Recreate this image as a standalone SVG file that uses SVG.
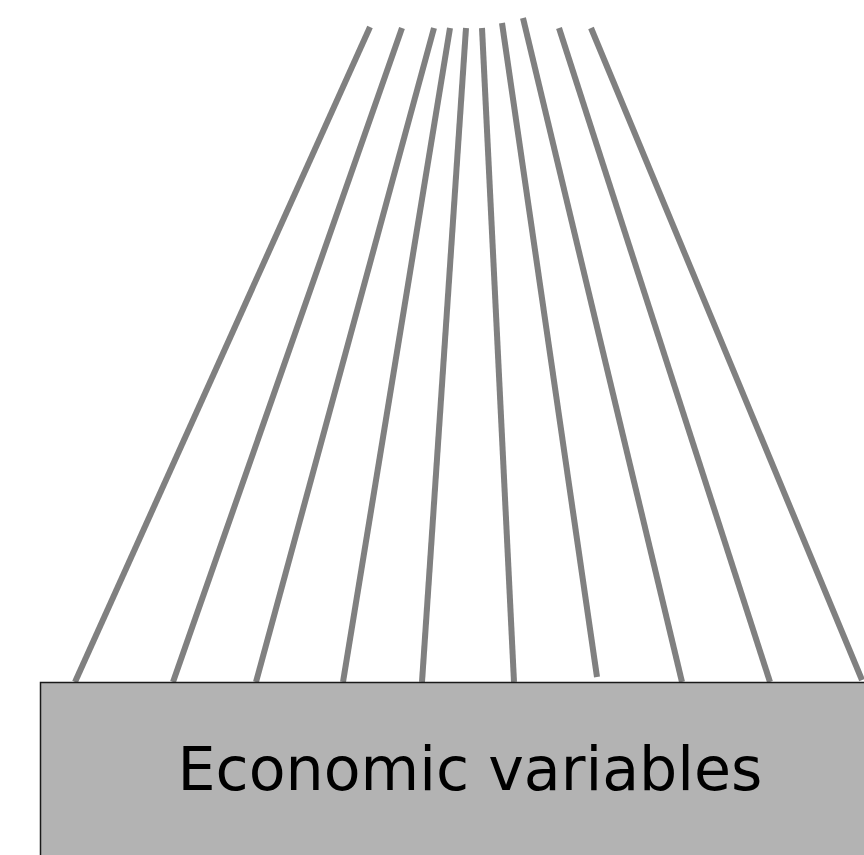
<svg xmlns="http://www.w3.org/2000/svg" width="864" height="855" viewBox="0 0 864 855">
<style>
.edge{stroke:#808080;stroke-width:6;fill:none}
.box{fill:#b3b3b3;stroke:#1a1a1a;stroke-width:1.5}
.label{font-family:"DejaVu Sans","Liberation Sans",sans-serif;font-size:61px;fill:#000}
</style>
<rect width="864" height="855" fill="#fff"/>
<g id="connectors">
<line class="edge" x1="370" y1="27" x2="75" y2="682"/>
<line class="edge" x1="402" y1="28" x2="173" y2="682"/>
<line class="edge" x1="434" y1="28" x2="256" y2="682"/>
<line class="edge" x1="450" y1="28" x2="343" y2="682"/>
<line class="edge" x1="466" y1="28" x2="422" y2="682"/>
<line class="edge" x1="482" y1="28" x2="514" y2="682"/>
<line class="edge" x1="502" y1="23" x2="597" y2="677"/>
<line class="edge" x1="523" y1="18" x2="682" y2="682"/>
<line class="edge" x1="559" y1="28" x2="770" y2="682"/>
<line class="edge" x1="591" y1="28" x2="862" y2="680"/>
</g>
<g id="economic-variables">
<rect class="box" x="40.5" y="682.5" width="840" height="200"/>
<text class="label" x="470" y="790" text-anchor="middle" textLength="585" lengthAdjust="spacingAndGlyphs">Economic variables</text>
</g>
</svg>
